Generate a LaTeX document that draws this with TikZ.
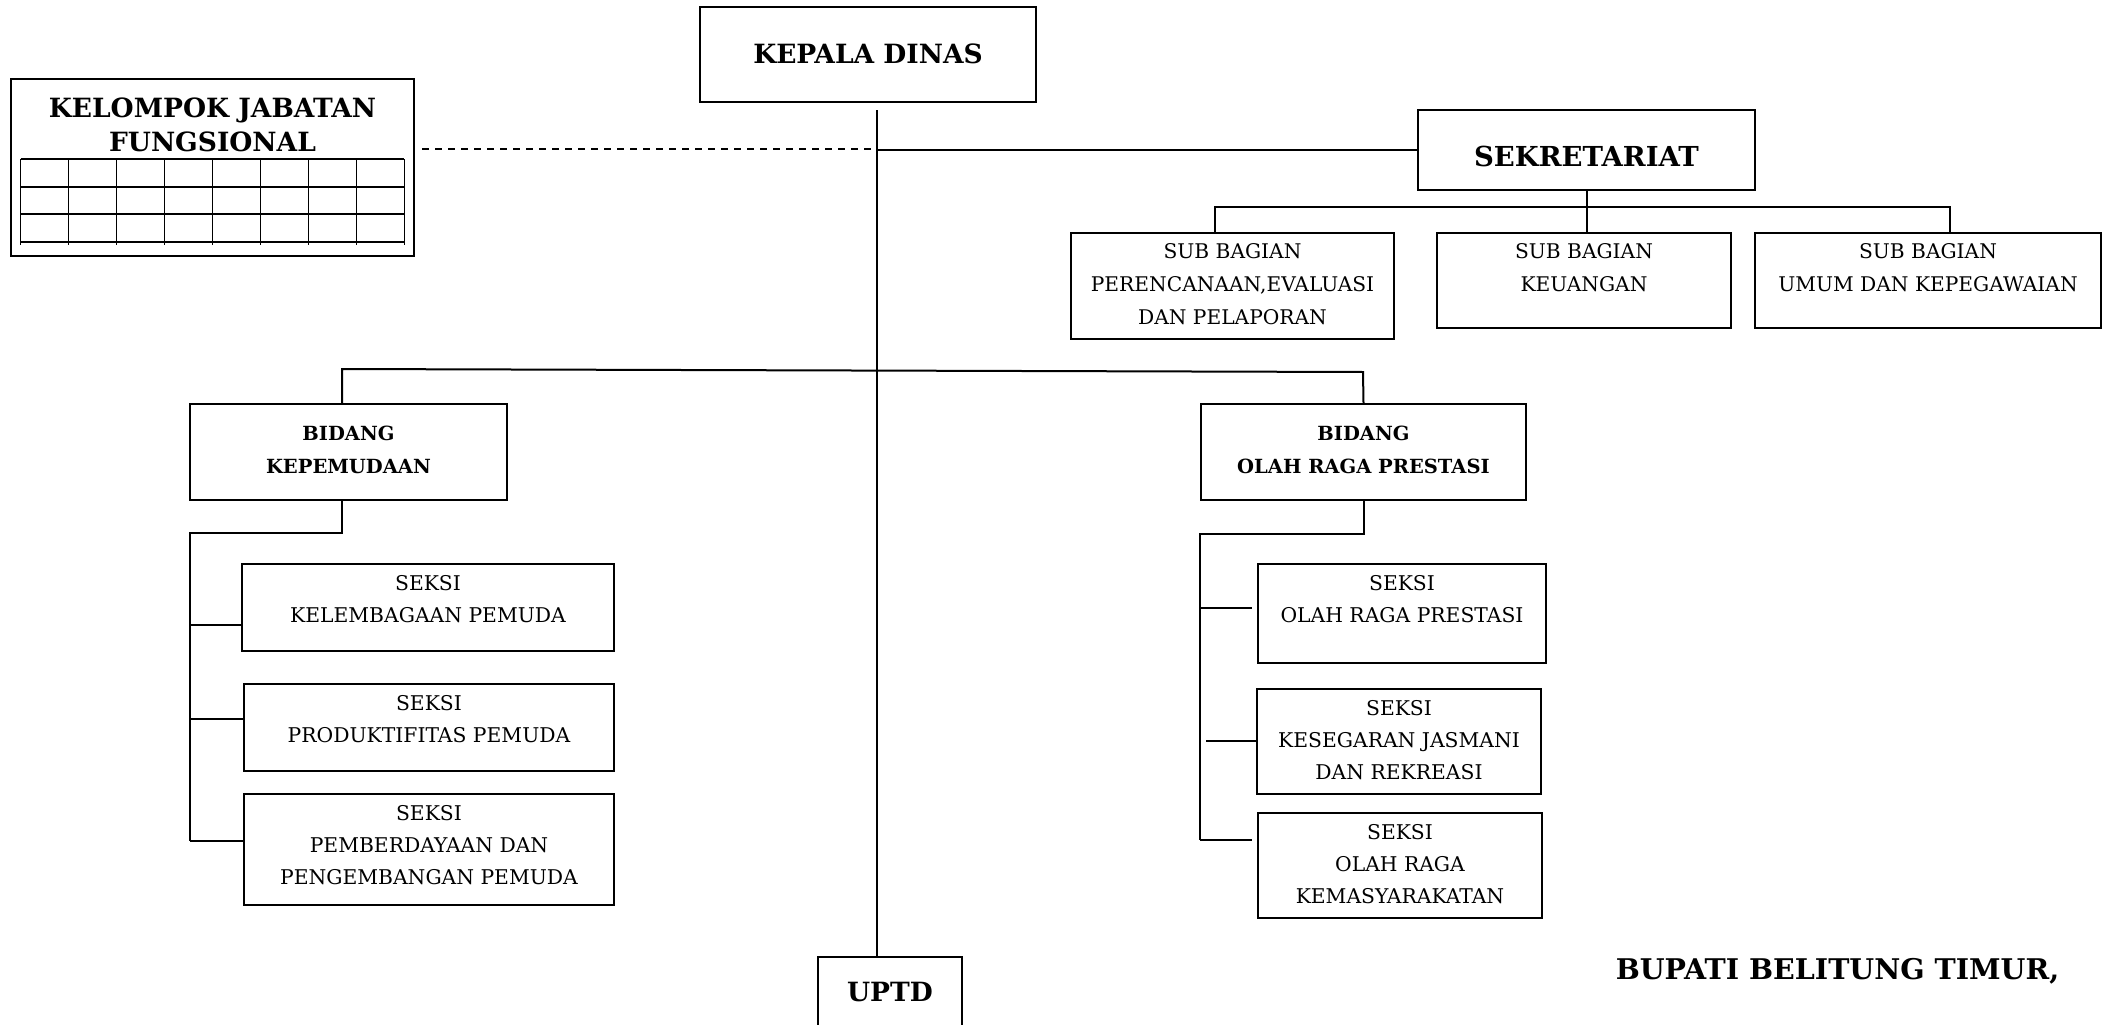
\documentclass[tikz,border=0pt]{standalone}
\usepackage{fontspec}
\setmainfont{DejaVu Serif}
\usetikzlibrary{calc}
\begin{document}
\begin{tikzpicture}[x=1pt,y=-1pt,
  box/.style={draw, line width=2.2pt, inner sep=0pt},
  conn/.style={line width=2pt},
  grid line/.style={line width=1.4pt},
  txt/.style={inner sep=0pt, align=center},
  rtxt/.style={txt, font=\fontsize{20.3}{32}\selectfont},
  btxt/.style={txt, font=\fontsize{19.5}{33}\selectfont\bfseries},
  htxt/.style={txt, font=\fontsize{26.5}{34}\selectfont\bfseries}
]
\useasboundingbox (0,0) rectangle (2110,1025);
% boxes
\node[box, minimum width=336pt, minimum height=95pt] (kd) at (868,54.5) {};
\node[box, minimum width=403pt, minimum height=177pt] (kjf) at (212.5,167.5) {};
\node[box, minimum width=337pt, minimum height=80pt] (sek) at (1586.5,150) {};
\node[box, minimum width=323pt, minimum height=106pt] (sb1) at (1232.5,286) {};
\node[box, minimum width=294pt, minimum height=95pt] (sb2) at (1584,280.5) {};
\node[box, minimum width=346pt, minimum height=95pt] (sb3) at (1928,280.5) {};
\node[box, minimum width=317pt, minimum height=96pt] (bk) at (348.5,452) {};
\node[box, minimum width=325pt, minimum height=96pt] (bo) at (1363.5,452) {};
\node[box, minimum width=372pt, minimum height=87pt] (k1) at (428,607.5) {};
\node[box, minimum width=370pt, minimum height=87pt] (k2) at (429,727.5) {};
\node[box, minimum width=370pt, minimum height=111pt] (k3) at (429,849.5) {};
\node[box, minimum width=288pt, minimum height=99pt] (o1) at (1402,613.5) {};
\node[box, minimum width=284pt, minimum height=105pt] (o2) at (1399,741.5) {};
\node[box, minimum width=284pt, minimum height=105pt] (o3) at (1400,865.5) {};
\node[box, minimum width=144pt, minimum height=90pt] (uptd) at (890,1002) {};
% texts
\node[htxt] (kd-t) at (868,54) {KEPALA DINAS};
\node[htxt, font=\fontsize{26.5}{34}\selectfont\bfseries] (kjf-t) at (212.5,125) {KELOMPOK JABATAN\\FUNGSIONAL};
\node[htxt, font=\fontsize{27.5}{34}\selectfont\bfseries] (sek-t) at (1586.5,156) {SEKRETARIAT};
\node[rtxt, font=\fontsize{20.2}{33}\selectfont] (sb1-t) at (1232.5,284) {SUB BAGIAN\\PERENCANAAN,EVALUASI\\DAN PELAPORAN};
\node[rtxt, font=\fontsize{20.2}{33}\selectfont] (sb2-t) at (1584,267.5) {SUB BAGIAN\\KEUANGAN};
\node[rtxt, font=\fontsize{20.2}{33}\selectfont] (sb3-t) at (1928,267.5) {SUB BAGIAN\\UMUM DAN KEPEGAWAIAN};
\node[btxt] (bk-t) at (348.5,449.5) {BIDANG\\KEPEMUDAAN};
\node[btxt] (bo-t) at (1363.5,449.5) {BIDANG\\OLAH RAGA PRESTASI};
\node[rtxt] (k1-t) at (428,599) {SEKSI\\KELEMBAGAAN PEMUDA};
\node[rtxt] (k2-t) at (429,719) {SEKSI\\PRODUKTIFITAS PEMUDA};
\node[rtxt] (k3-t) at (429,845) {SEKSI\\PEMBERDAYAAN DAN\\PENGEMBANGAN PEMUDA};
\node[rtxt] (o1-t) at (1402,599) {SEKSI\\OLAH RAGA PRESTASI};
\node[rtxt] (o2-t) at (1399,740) {SEKSI\\KESEGARAN JASMANI\\DAN REKREASI};
\node[rtxt] (o3-t) at (1400,864) {SEKSI\\OLAH RAGA\\KEMASYARAKATAN};
\node[htxt] (uptd-t) at (890,992) {UPTD};
\node[htxt, font=\fontsize{28.5}{30}\selectfont\bfseries] (bup) at (1837.5,971) {BUPATI BELITUNG TIMUR,};
% KJF grid
\foreach \yy in {159,187,214,242} \draw[grid line] (20.7,\yy) -- (404.3,\yy);
\foreach \i in {0,...,8} \draw[grid line] ({20.7+47.95*\i},159) -- ({20.7+47.95*\i},245);
% coordinates
\coordinate (ctop) at (877,110);
\coordinate (cs) at (877,150);
\coordinate (cd) at (877,149);
\coordinate (d1) at (1215,207);
\coordinate (d3) at (1950,207);
\coordinate (bl) at (342,369);
\coordinate (br) at (1363,372);
\coordinate (kb) at (190,533);
\coordinate (kb1) at (190,625);
\coordinate (kb2) at (190,719);
\coordinate (kb3) at (190,841);
\coordinate (ob) at (1200,534);
\coordinate (ob1) at (1200,608);
\coordinate (ob2) at (1206,741);
\coordinate (ob3) at (1200,840);
% connectors
\draw[conn] (ctop) -- (ctop |- uptd.north);
\draw[conn] (cs) -- (cs -| sek.west);
\draw[conn, dash pattern=on 7pt off 6pt] ($(kjf.east |- cd)+(7,0)$) -- (cd);
\draw[conn] (sek.south) -- (sek.south |- sb2.north);
\draw[conn] (d1 |- sb1.north) -- (d1) -- (d3) -- (d3 |- sb3.north);
\draw[conn] (bl |- bk.north) -- (bl) -- (br) -- (bo.north);
\draw[conn] (bl |- bk.south) -- (bl |- kb) -- (kb) -- (kb3);
\draw[conn] (kb1) -- (kb1 -| k1.west);
\draw[conn] (kb2) -- (kb2 -| k2.west);
\draw[conn] (kb3) -- (kb3 -| k3.west);
\draw[conn] (bo.south) -- (bo.south |- ob) -- (ob) -- (ob3);
\draw[conn, shorten >=5pt] (ob1) -- (ob1 -| o1.west);
\draw[conn] (ob2) -- (ob2 -| o2.west);
\draw[conn, shorten >=5pt] (ob3) -- (ob3 -| o3.west);
\end{tikzpicture}
\end{document}
